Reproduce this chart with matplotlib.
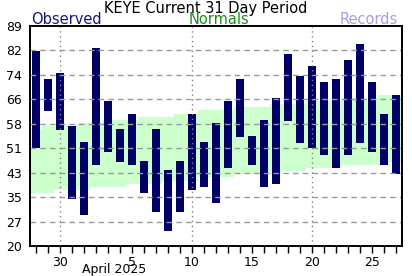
import matplotlib
matplotlib.use("Agg")
import matplotlib.pyplot as plt
import numpy as np

# --- data (March 28 .. April 27, 2025) ---
days = [28, 29, 30, 31, 1, 2, 3, 4, 5, 6, 7, 8, 9, 10, 11, 12, 13, 14, 15, 16,
        17, 18, 19, 20, 21, 22, 23, 24, 25, 26, 27]
obs_high = [81.3, 72.4, 74.2, 57.6, 52.6, 82.1, 65.5, 56.7, 61.4, 46.7, 56.7,
            43.8, 46.7, 61.4, 52.6, 58.6, 65.5, 72.4, 54.5, 59.5, 66.4, 80.2,
            73.3, 76.5, 71.4, 72.4, 78.3, 83.4, 71.4, 61.4, 67.4]
obs_low = [50.6, 62.4, 56.5, 34.8, 29.8, 45.5, 49.6, 46.5, 45.5, 36.7, 30.8,
           24.8, 30.8, 37.7, 38.6, 33.6, 44.6, 54.3, 45.5, 38.6, 39.4, 59.3,
           52.4, 50.6, 48.6, 44.6, 48.6, 52.4, 49.6, 45.5, 42.7]
norm_high = [56.6, 57.6, 57.6, 57.6, 58.5, 58.5, 59.4, 59.4, 59.4, 60.5, 60.5,
             60.5, 61.4, 61.4, 62.7, 62.7, 62.7, 63.6, 63.6, 63.6, 64.5, 64.5,
             64.5, 65.5, 65.5, 65.5, 66.4, 66.4, 66.4, 67.4, 67.4]
norm_low = [36.7, 36.7, 37.7, 37.7, 37.7, 38.6, 38.6, 38.6, 39.5, 39.5, 39.5,
            40.5, 40.5, 40.5, 41.6, 41.6, 41.6, 42.6, 42.6, 42.6, 42.6, 43.5,
            43.5, 44.5, 44.5, 44.5, 45.4, 45.4, 45.4, 45.4, 46.5]
ytick_labels = ["20", "27", "35", "43", "51", "58", "66", "74", "82", "89"]
major_days = [30, 5, 10, 15, 20, 25]
dotted_days = [30, 10, 20]
month_label = "April 2025"

W, H = 412, 276
fig = plt.figure(figsize=(W / 100, H / 100), dpi=100)
ax = fig.add_axes([30 / W, (H - 246) / H, (402 - 30) / W, (246 - 26) / H])

x = np.arange(len(days))
nh = np.array(norm_high); nl = np.array(norm_low)
oh = np.array(obs_high); ol = np.array(obs_low)

ax.bar(x, nh - nl, bottom=nl, width=1.0, color="#ccffcc", linewidth=0, zorder=1)
ax.bar(x, oh - ol, bottom=ol, width=0.67, color="#000066", linewidth=0, zorder=2)

ax.set_xlim(-0.5, len(days) - 0.5)
ax.set_ylim(20, 89)
yt = np.linspace(20, 89, len(ytick_labels))
ax.set_yticks(yt)
ax.set_yticklabels(ytick_labels, fontsize=9)
ax.tick_params(axis="y", length=0, pad=6)

for v in yt[1:-1]:
    ax.axhline(v, color="#999999", lw=1.0, ls=(0, (4, 3)), zorder=5)

major_idx = []
for d in major_days:
    idx = [i for i, dd in enumerate(days) if dd == d]
    major_idx.append(idx[-1] if d < 28 else idx[0])
dot_idx = [major_idx[major_days.index(d)] for d in dotted_days]
for i in dot_idx:
    ax.axvline(i, color="#808080", lw=1.0, ls=(0, (1, 2.5)), zorder=5)

ax.set_xticks(x, minor=True)
ax.set_xticks(major_idx)
ax.set_xticklabels([str(d) for d in major_days], fontsize=9)
ax.tick_params(axis="x", which="both", length=5, width=1, direction="out", pad=2.5)

for s in ax.spines.values():
    s.set_linewidth(1.4)
    s.set_zorder(6)

apr_idx = days.index(1)
ax.text(apr_idx - 0.15, -0.077, month_label, transform=ax.get_xaxis_transform(),
        ha="left", va="top", fontsize=9)

fig.text(0.5, (H - 8) / H, "KEYE Current 31 Day Period", ha="center", va="center",
         fontsize=10.5, color="black")
fig.text(31 / W, (H - 19) / H, "Observed", ha="left", va="center",
         fontsize=10.5, color="#141480")
fig.text(219 / W, (H - 19) / H, "Normals", ha="center", va="center",
         fontsize=10.5, color="#1f8a1f")
fig.text(398 / W, (H - 19) / H, "Records", ha="right", va="center",
         fontsize=10.5, color="#a89aee")

fig.savefig("out.png", dpi=100)
